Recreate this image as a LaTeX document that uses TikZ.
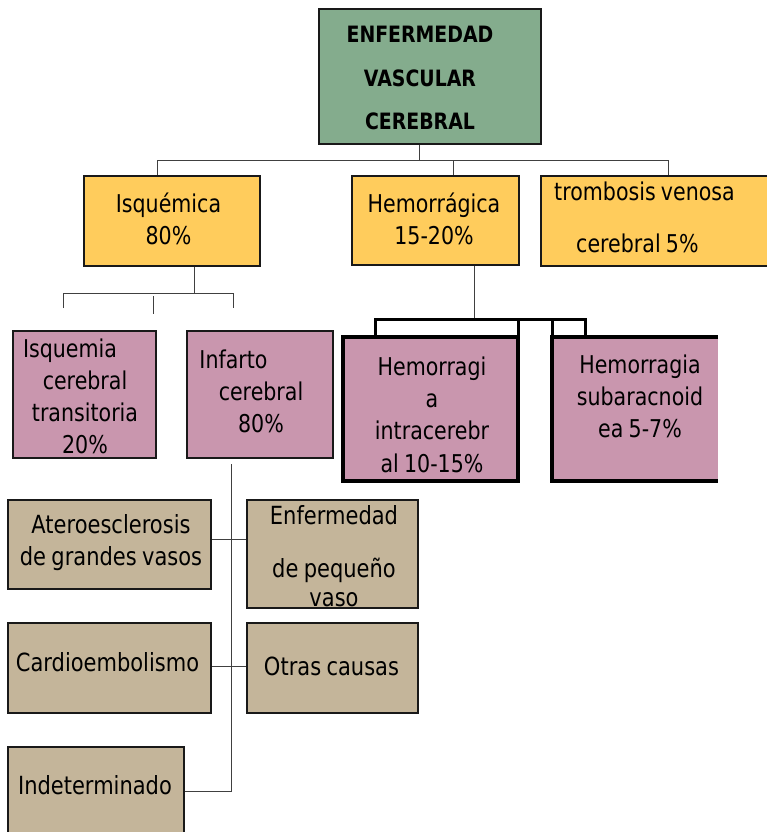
\documentclass[tikz,border=0pt]{standalone}
\usepackage{fontspec}
\setmainfont{DejaVu Sans}[FakeStretch=0.84,WordSpace=0.8]
\pgfdeclarelayer{edgelayer}
\pgfdeclarelayer{nodelayer}
\pgfsetlayers{edgelayer,nodelayer,main}
\definecolor{evcgreen}{RGB}{132,172,141}
\definecolor{evcyellow}{RGB}{255,204,92}
\definecolor{evcpink}{RGB}{201,150,174}
\definecolor{evctan}{RGB}{196,181,154}
\tikzstyle{box}=[rectangle,draw=black!90,line width=1.6pt,inner sep=0pt,outer sep=0pt]
\tikzstyle{bigbox}=[box,draw=black,line width=3.5pt]
\tikzstyle{txt}=[anchor=base,align=center,inner sep=0pt,font=\fontsize{24.5}{32}\selectfont]
\tikzstyle{tantxt}=[txt,font=\fontsize{25}{32}\selectfont]
\tikzstyle{link}=[draw=black!75,line width=0.9pt]
\tikzstyle{thicklink}=[draw=black,line width=3pt]

\begin{document}
\begin{tikzpicture}[x=1pt,y=-1pt]
	\useasboundingbox (0,0) rectangle (766,832);
	\begin{pgfonlayer}{nodelayer}
		\node [box, fill=evcgreen, minimum width=222, minimum height=135] (title) at (430, 76.5) {};
		\node [box, fill=evcyellow, minimum width=176, minimum height=90] (isq) at (172, 221) {};
		\node [box, fill=evcyellow, minimum width=167, minimum height=89] (hem) at (435.5, 220.5) {};
		\node [box, fill=evcyellow, minimum width=227, minimum height=90] (trom) at (654.5, 221) {};
		\node [box, fill=evcpink, minimum width=143, minimum height=127] (tia) at (84.5, 394.5) {};
		\node [box, fill=evcpink, minimum width=146, minimum height=127] (inf) at (260, 394.5) {};
		\node [bigbox, fill=evcpink, minimum width=175, minimum height=144] (hic) at (430.5, 409) {};
		\node [bigbox, draw=none, fill=evcpink, minimum width=166, minimum height=144] (hsa) at (635, 409) {};
		\draw [line width=3.5pt] (hsa.north east) -- (hsa.north west) -- (hsa.south west) -- (hsa.south east);
		\node [box, fill=evctan, minimum width=203, minimum height=89] (ater) at (109.5, 544.5) {};
		\node [box, fill=evctan, minimum width=171, minimum height=108] (epv) at (332.5, 554) {};
		\node [box, fill=evctan, minimum width=203, minimum height=90] (cardio) at (109.5, 668) {};
		\node [box, fill=evctan, minimum width=171, minimum height=90] (otras) at (332.5, 668) {};
		\node [box, fill=evctan, minimum width=176, minimum height=93] (indet) at (96, 793.5) {};
	\end{pgfonlayer}
	% labels (base = last line)
	\node [txt, font=\bfseries\fontsize{22.5}{43.5}\selectfont] (title-t) at (420, 130) {ENFERMEDAD\\VASCULAR\\CEREBRAL};
	\node [txt] (isq-t) at (168.5, 244) {Isquémica\\80\%};
	\node [txt] (hem-t) at (434, 244) {Hemorrágica\\15-20\%};
	\node [txt, anchor=base west, align=left] (trom-t) at (554, 252) {trombosis venosa\\[20pt]\hspace*{22pt}cerebral 5\%};
	\node [txt] (tia-t) at (85, 453) {Isquemia\hspace*{30pt}\\cerebral\\transitoria\\20\%};
	\node [txt] (inf-t) at (261, 432) {Infarto\hspace*{55pt}\\cerebral\\80\%};
	\node [txt, font=\fontsize{24.5}{32.3}\selectfont] (hic-t) at (432, 472) {Hemorragi\\a\\intracerebr\\al 10-15\%};
	\node [txt] (hsa-t) at (640, 437) {Hemorragia\\subaracnoid\\ea 5-7\%};
	\node [tantxt] (ater-t) at (111, 565) {Ateroesclerosis\\de grandes vasos};
	\begin{scope}
		\clip ([yshift=1pt]epv.south west) rectangle (epv.north east);
		\node [tantxt] (epv-t) at (334, 606) {Enfermedad\\[21pt]de pequeño\\[-3pt]vaso};
	\end{scope}
	\node [tantxt] (cardio-t) at (107.5, 671) {Cardioembolismo};
	\node [tantxt] (otras-t) at (331.5, 675) {Otras causas};
	\node [tantxt] (indet-t) at (95, 794) {Indeterminado};
	\begin{pgfonlayer}{edgelayer}
		\coordinate (bus) at (419, 160);
		\coordinate (busL) at (157, 160);
		\coordinate (busR) at (668, 160);
		\coordinate (busH) at (453, 160);
		\draw [link] (title.south -| bus) to (bus);
		\draw [link] (busL |- isq.north) to (busL) to (busR) to (busR |- trom.north);
		\draw [link] (busH) to (busH |- hem.north);
		% isquemica
		\coordinate (isqJ) at (194, 293);
		\coordinate (isqL) at (63.5, 293);
		\coordinate (isqR) at (233, 293);
		\coordinate (isqLe) at (63.5, 308);
		\coordinate (isqRe) at (233, 308);
		\coordinate (tickA) at (153, 296);
		\coordinate (tickB) at (153, 314);
		\draw [link] (isq.south -| isqJ) to (isqJ);
		\draw [link] (isqLe) to (isqL) to (isqR) to (isqRe);
		\draw [link] (tickA) to (tickB);
		% hemorragica
		\coordinate (hemJ) at (474, 319);
		\coordinate (hemL) at (375, 319);
		\coordinate (hemR) at (585, 319);
		\draw [link] (hem.south -| hemJ) to (hemJ);
		\draw [thicklink] (hemL |- hic.north) to (hemL) to (hemR) to (hemR |- hsa.north);
		\draw [thicklink] (hic.north east) to (hic.north east |- hemL);
		\draw [thicklink] (hsa.north west) to (hsa.north west |- hemL);
		% infarto
		\coordinate (infT) at (231, 464);
		\coordinate (infB) at (231, 791);
		\draw [link] (infT) to (infB) to (infB -| indet.east);
		\draw [link] ([yshift=5.5pt]ater.east) to ([yshift=5.5pt]ater.east -| epv.west);
		\draw [link] ([yshift=2pt]cardio.east) to ([yshift=2pt]cardio.east -| otras.west);
	\end{pgfonlayer}
\end{tikzpicture}
\end{document}
